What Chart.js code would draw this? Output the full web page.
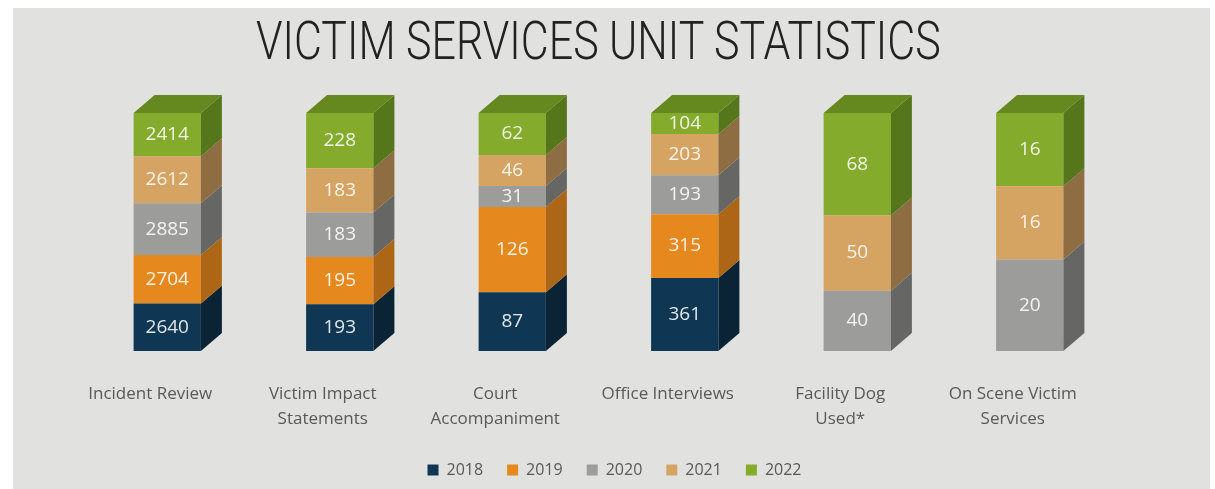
<!DOCTYPE html>
<html>
<head>
<meta charset="utf-8">
<title>Victim Services Unit Statistics</title>
<script src="https://cdn.jsdelivr.net/npm/chart.js@4.4.1/dist/chart.umd.min.js"></script>
<style>
  html, body { margin: 0; padding: 0; background: #fff; overflow: hidden; }
  #wrap { position: relative; width: 1215px; height: 489px; overflow: hidden; }
  #panel { position: absolute; left: 13px; top: 8px; width: 1197px; height: 481px; background: #e1e1df; }
  #title {
    position: absolute; top: 15px; left: 0; white-space: nowrap;
    font-family: Roboto, "Liberation Sans", sans-serif; font-weight: 300;
    font-size: 53px; line-height: 53px; color: #222; transform-origin: 0 0;
  }
  canvas { position: absolute; left: 0; top: 0; }
</style>
</head>
<body>
<div id="wrap">
  <div id="panel"></div>
  <canvas id="chart" width="1215" height="500"></canvas>
  <div id="title">VICTIM SERVICES UNIT STATISTICS</div>
</div>
<script>
// categories and yearly counts
const categories = [
  ['Incident Review'],
  ['Victim Impact', 'Statements'],
  ['Court', 'Accompaniment'],
  ['Office Interviews'],
  ['Facility Dog', 'Used*'],
  ['On Scene Victim', 'Services']
];
const years = ['2018', '2019', '2020', '2021', '2022'];
const v2018 = [2640, 193, 87, 361, null, null];
const v2019 = [2704, 195, 126, 315, null, null];
const v2020 = [2885, 183, 31, 193, 40, 20];
const v2021 = [2612, 183, 46, 203, 50, 16];
const v2022 = [2414, 228, 62, 104, 68, 16];

const series = [v2018, v2019, v2020, v2021, v2022];
const frontColors = ['#0f3652', '#e5891f', '#9c9c9b', '#d5a463', '#84ab2b'];
const sideColors = ['#0a2436', '#ad6615', '#666665', '#8e6d42', '#55761a'];
const topColors = ['#0d2d45', '#c47419', '#7f7f7e', '#b08752', '#66891f'];

// each column is shown as 100% of its own total
const totals = categories.map((c, j) => series.reduce((s, arr) => s + (arr[j] || 0), 0));
const pct = arr => arr.map((v, j) => v == null ? null : v / totals[j] * 100);

const depth = { dx: 21, dy: 18 };

const box3d = {
  id: 'box3d',
  afterDatasetsDraw(chart) {
    const ctx = chart.ctx;
    ctx.save();
    categories.forEach((c, j) => {
      let topEl = null, topIdx = -1;
      chart.data.datasets.forEach((ds, i) => {
        if (!ds.data[j]) return;
        const el = chart.getDatasetMeta(i).data[j];
        const { x, y, base, width } = el.getProps(['x', 'y', 'base', 'width'], true);
        const r = x + width / 2;
        ctx.fillStyle = sideColors[i];
        ctx.beginPath();
        ctx.moveTo(r, y);
        ctx.lineTo(r + depth.dx, y - depth.dy);
        ctx.lineTo(r + depth.dx, base - depth.dy);
        ctx.lineTo(r, base);
        ctx.closePath();
        ctx.fill();
        topEl = el; topIdx = i;
      });
      if (topEl) {
        const { x, y, width } = topEl.getProps(['x', 'y', 'width'], true);
        const l = x - width / 2, r = x + width / 2;
        ctx.fillStyle = topColors[topIdx];
        ctx.beginPath();
        ctx.moveTo(l, y);
        ctx.lineTo(l + depth.dx, y - depth.dy);
        ctx.lineTo(r + depth.dx, y - depth.dy);
        ctx.lineTo(r, y);
        ctx.closePath();
        ctx.fill();
      }
    });

    // value labels on the front faces
    ctx.font = '19px "Open Sans", sans-serif';
    ctx.fillStyle = 'rgba(255,255,255,0.88)';
    ctx.textAlign = 'center';
    ctx.textBaseline = 'middle';
    series.forEach((arr, i) => {
      const meta = chart.getDatasetMeta(i);
      arr.forEach((v, j) => {
        if (v == null) return;
        const { x, y, base } = meta.data[j].getProps(['x', 'y', 'base'], true);
        ctx.fillText(String(v), x, (y + base) / 2);
      });
    });
    ctx.restore();
  },
  afterLayout(chart) {
    // legend sits a little right of centre in the original
    chart.legend.left += 16;
    chart.legend.right += 16;
  }
};

new Chart(document.getElementById('chart'), {
  type: 'bar',
  data: {
    labels: categories,
    datasets: years.map((yr, i) => ({
      label: yr,
      data: pct(series[i]),
      backgroundColor: frontColors[i],
      borderWidth: 0,
      barPercentage: 0.39,
      categoryPercentage: 1
    }))
  },
  options: {
    responsive: false,
    animation: false,
    layout: { padding: { left: 81, right: 99, top: 113, bottom: 12 } },
    scales: {
      x: {
        stacked: true,
        grid: { display: false, drawTicks: false },
        border: { display: false },
        ticks: {
          color: '#595959',
          font: { family: 'Open Sans', size: 17, lineHeight: 1.5 },
          padding: 30,
          labelOffset: -17,
          maxRotation: 0,
          autoSkip: false
        },
        afterFit(scale) { scale.height = 87; }
      },
      y: { stacked: true, display: false, min: 0, max: 100 }
    },
    plugins: {
      legend: {
        position: 'bottom',
        labels: {
          boxWidth: 11,
          boxHeight: 11,
          padding: 24,
          color: '#595959',
          font: { family: 'Open Sans', size: 16 }
        }
      },
      tooltip: { enabled: false }
    }
  },
  plugins: [box3d]
});

// title: condensed light look, centred at x ~598
const t = document.getElementById('title');
const s = 685 / t.offsetWidth;
t.style.transform = 'scaleX(' + s + ')';
t.style.left = (598 - t.offsetWidth * s / 2) + 'px';
</script>
</body>
</html>
